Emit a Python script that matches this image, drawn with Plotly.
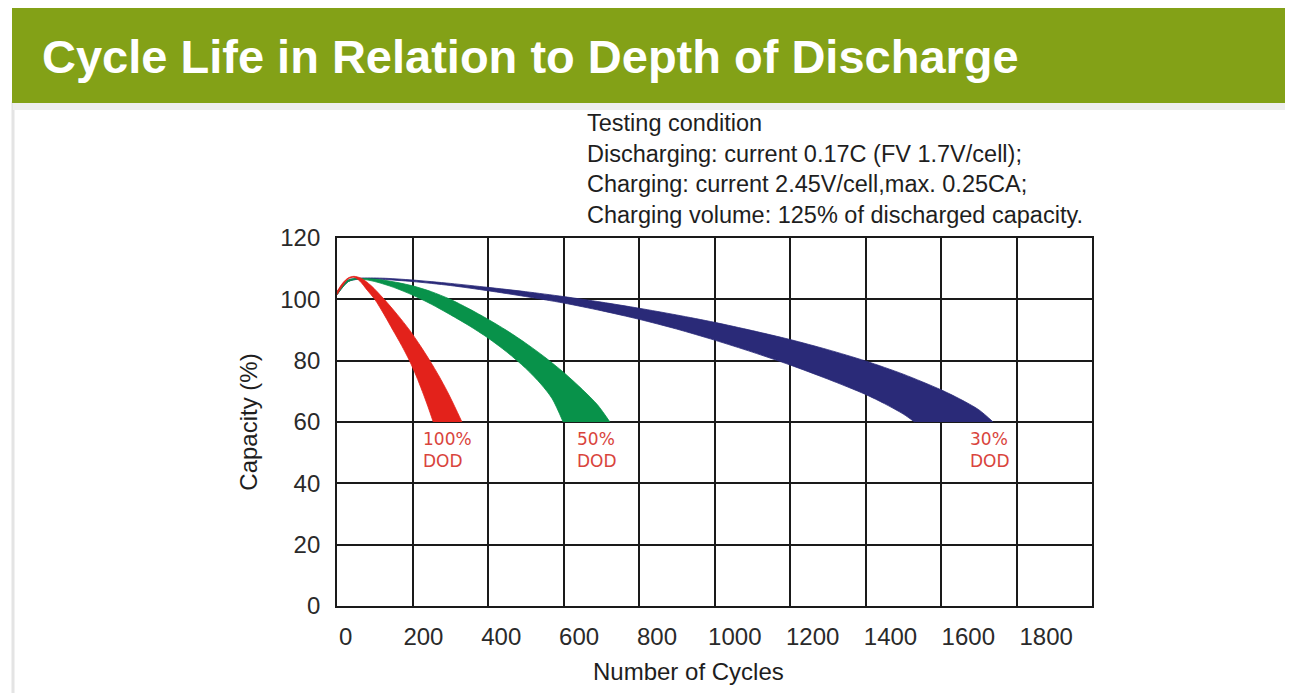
import plotly.graph_objects as go

# ---- data ----
x_ticks = [0, 200, 400, 600, 800, 1000, 1200, 1400, 1600, 1800]
y_ticks = [0, 20, 40, 60, 80, 100, 120]

# 100% DOD band
red_outer_x = [0, 15, 30, 45, 65, 90, 125, 160, 192, 220, 246, 270, 292, 312, 331]
red_outer_y = [102.5, 105.3, 107.0, 107.5, 106.8, 104.5, 100.0, 95.0, 90.0, 85.0, 80.0, 75.0, 70.0, 65.0, 60.0]
red_inner_x = [0, 15, 30, 45, 60, 80, 100, 125, 148, 171, 192, 210, 226, 241, 255]
red_inner_y = [101.5, 104.5, 106.7, 107.2, 106.0, 103.0, 100.0, 95.0, 90.0, 85.0, 80.0, 75.0, 70.0, 65.0, 60.0]

# 50% DOD band
green_outer_x = [0, 30, 60, 100, 150, 200, 250, 300, 350, 400, 450, 500, 550, 600, 650, 690, 723]
green_outer_y = [102.5, 106.3, 106.8, 106.6, 105.7, 104.4, 102.5, 100.0, 96.9, 93.5, 89.8, 85.7, 81.2, 76.2, 70.6, 65.6, 60.0]
green_inner_x = [0, 30, 60, 100, 150, 200, 250, 300, 350, 400, 450, 500, 540, 570, 599]
green_inner_y = [101.5, 105.8, 106.6, 105.8, 103.9, 101.4, 98.4, 95.0, 91.4, 87.4, 82.8, 77.5, 72.4, 67.6, 60.0]

# 30% DOD band
blue_outer_x = [0, 30, 60, 120, 200, 300, 400, 500, 600, 700, 800, 900, 1000, 1100, 1200, 1300, 1400, 1500, 1600, 1650, 1700, 1738]
blue_outer_y = [102.5, 106.3, 106.9, 106.9, 106.3, 105.2, 103.9, 102.5, 100.9, 99.1, 97.1, 94.9, 92.5, 89.8, 86.9, 83.6, 79.9, 75.6, 70.5, 67.5, 64.0, 60.0]
blue_inner_x = [0, 30, 60, 120, 200, 300, 400, 500, 600, 700, 800, 900, 1000, 1100, 1200, 1300, 1400, 1450, 1500, 1530]
blue_inner_y = [101.5, 105.8, 106.6, 106.5, 105.8, 104.5, 102.8, 100.9, 98.8, 96.3, 93.5, 90.3, 86.7, 82.8, 78.6, 74.0, 69.0, 66.0, 62.6, 60.0]

bands = [
    ("30% DOD", blue_outer_x, blue_outer_y, blue_inner_x, blue_inner_y, "#2a2a78"),
    ("50% DOD", green_outer_x, green_outer_y, green_inner_x, green_inner_y, "#08924a"),
    ("100% DOD", red_outer_x, red_outer_y, red_inner_x, red_inner_y, "#e3221b"),
]

labels = [("100%", "DOD", 222, 50.9), ("50%", "DOD", 630, 50.9), ("30%", "DOD", 1671, 50.9)]

title_text = "Cycle Life in Relation to Depth of Discharge"
cond_lines = [
    "Testing condition",
    "Discharging: current 0.17C (FV 1.7V/cell);",
    "Charging: current 2.45V/cell,max. 0.25CA;",
    "Charging volume: 125% of discharged capacity.",
]

# ---- geometry (reference pixel coords, page has an 8px body margin) ----
OFF = 8
W, H = 1293 - OFF, 693 - OFF
L, R, T, B = 337 - OFF, 1092 - OFF, 238 - OFF, 606 - OFF
def xp(px):
    return (px - OFF - L) / (R - L)
def yp(py):
    return (B - (py - OFF)) / (B - T)

FONT = "Liberation Sans, Arial, sans-serif"
LABEL_FONT = "DejaVu Sans, Verdana, sans-serif"

fig = go.Figure()
for name, ox, oy, ix, iy, col in bands:
    # inner (lower/left) edge, then outer edge filled back to it
    fig.add_trace(go.Scatter(
        x=ix, y=iy, mode="lines",
        line=dict(color=col, width=0.8, shape="spline", smoothing=0.8),
        name=name + " inner", showlegend=False, hoverinfo="skip"))
    fig.add_trace(go.Scatter(
        x=ox, y=oy, mode="lines", fill="tonexty", fillcolor=col,
        line=dict(color=col, width=0.8, shape="spline", smoothing=0.8),
        name=name, showlegend=False, hoverinfo="skip"))

# helper trace (no visible marks) so that the tick-label axis is drawn
fig.add_trace(go.Scatter(x=[x_ticks[0], x_ticks[-1]], y=[None, None], xaxis="x2", yaxis="y",
                         mode="markers", showlegend=False, hoverinfo="skip"))

annotations = []
for top, bot, ax, ay in labels:
    annotations.append(dict(x=ax, y=ay, xref="x", yref="y", text=top + "<br>" + bot,
                            showarrow=False, align="left", xanchor="left", yanchor="middle",
                            font=dict(family=LABEL_FONT, size=17, color="#d9443c")))

annotations.append(dict(x=xp(585), y=yp(169), xref="paper", yref="paper",
                        text="<br>".join(cond_lines), showarrow=False, align="left",
                        xanchor="left", yanchor="middle",
                        font=dict(family=FONT, size=23.5, color="#1e1e1e")))
annotations.append(dict(x=xp(688), y=yp(671), xref="paper", yref="paper",
                        text="Number of Cycles", showarrow=False,
                        xanchor="center", yanchor="middle",
                        font=dict(family=FONT, size=24, color="#1e1e1e")))

shapes = [
    dict(type="rect", xref="paper", yref="paper", x0=xp(13), x1=xp(1289), y0=yp(720), y1=yp(103),
         line=dict(color="#e4e4e4", width=3), fillcolor="rgba(0,0,0,0)", layer="below"),
    dict(type="rect", xref="paper", yref="paper", x0=xp(13), x1=xp(1289), y0=yp(110), y1=yp(102),
         line=dict(width=0), fillcolor="#eeeeee", layer="below"),
    dict(type="rect", xref="paper", yref="paper", x0=xp(12), x1=xp(1290), y0=yp(103), y1=yp(8),
         line=dict(width=0), fillcolor="#83a117", layer="below"),
]

fig.update_layout(
    width=W, height=H,
    margin=dict(l=L, r=W - R, t=T, b=H - B, autoexpand=False),
    paper_bgcolor="white", plot_bgcolor="white",
    showlegend=False,
    title=dict(text="<b>" + title_text + "</b>", x=(42 - OFF) / W, xref="container", xanchor="left",
               y=1 - (57 - OFF) / H, yref="container", yanchor="middle",
               font=dict(family=FONT, size=47, color="white")),
    annotations=annotations,
    shapes=shapes,
    xaxis=dict(range=[0, 2000], tickvals=x_ticks, showticklabels=False, ticks="",
               showgrid=True, gridcolor="#1a1a1a", gridwidth=1.6,
               showline=True, mirror=True, linecolor="#1a1a1a", linewidth=1.8,
               zeroline=False, fixedrange=True),
    xaxis2=dict(overlaying="x", anchor="y", side="bottom", range=[-22.1, 1917.8],
                tickvals=x_ticks, ticktext=[str(v) for v in x_ticks], ticks="",
                showgrid=False, showline=False, zeroline=False, ticklabelstandoff=14,
                tickfont=dict(family=FONT, size=24, color="#2a2a2a"), fixedrange=True),
    yaxis=dict(range=[0, 120], tickvals=y_ticks, ticks="",
               showgrid=True, gridcolor="#1a1a1a", gridwidth=1.6,
               showline=True, mirror=True, linecolor="#1a1a1a", linewidth=1.8,
               zeroline=False, ticklabelstandoff=10,
               tickfont=dict(family=FONT, size=24, color="#2a2a2a"),
               title=dict(text="Capacity (%)", standoff=16,
                          font=dict(family=FONT, size=24, color="#1e1e1e")),
               fixedrange=True),
)

fig.write_html("out.html")
